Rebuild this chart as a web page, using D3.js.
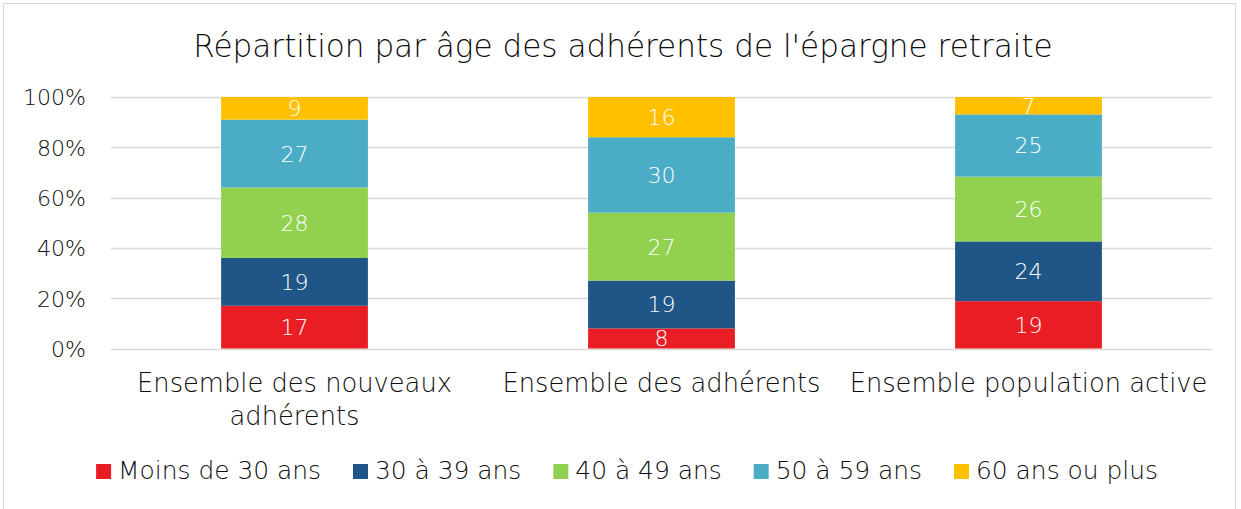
<!DOCTYPE html>
<html>
<head>
<meta charset="utf-8">
<script src="https://cdn.jsdelivr.net/npm/d3@7"></script>
<style>
  body { margin: 0; background: #fff; }
  svg { font-family: "DejaVu Sans", sans-serif; font-weight: 200; }
</style>
</head>
<body>
<svg id="chart" width="1241" height="509"></svg>
<script>
const categories = [["Ensemble des nouveaux", "adhérents"], ["Ensemble des adhérents"], ["Ensemble population active"]];
const seriesNames = ["Moins de 30 ans", "30 à 39 ans", "40 à 49 ans", "50 à 59 ans", "60 ans ou plus"];
const moins30 = [17, 8, 19];
const de30a39 = [19, 19, 24];
const de40a49 = [28, 27, 26];
const de50a59 = [27, 30, 25];
const plus60 = [9, 16, 7];
const yTicks = [0, 0.2, 0.4, 0.6, 0.8, 1];
const colors = ["#E91E25", "#1F5587", "#92D050", "#4BACC6", "#FFC000"];

const svg = d3.select("#chart");
const margin = { top: 97, right: 29, bottom: 160, left: 111 };
const W = 1241, H = 509;
const ink = "#0d0d0d";

// size a font so a sample string takes a given width (the original uses Century Gothic)
function fitSize(sample, target, base) {
  const t = svg.append("text").attr("font-size", base).text(sample);
  const w = t.node().getComputedTextLength();
  t.remove();
  return base * target / w;
}
const titleSize = fitSize("Répartition par âge des adhérents de l'épargne retraite", 860, 30);
const catSize = fitSize("Ensemble des nouveaux", 315, 24);
const legSize = fitSize("Moins de 30 ans", 203, 24);
const tickSize = fitSize("100%", 63, 24);
const valSize = tickSize;

// frame
svg.append("rect").attr("x", 3.5).attr("y", 3.5).attr("width", 1232).attr("height", 510)
  .attr("fill", "#fff").attr("stroke", "#D9D9D9").attr("stroke-width", 1);

const keys = seriesNames;
const cols = [moins30, de30a39, de40a49, de50a59, plus60];
const rows = categories.map((c, i) => {
  const r = { cat: c.join(" ") };
  keys.forEach((k, j) => r[k] = cols[j][i]);
  return r;
});
const stacked = d3.stack().keys(keys).offset(d3.stackOffsetExpand)(rows);

const x = d3.scaleBand().domain(rows.map(r => r.cat)).range([margin.left, W - margin.right]);
const y = d3.scaleLinear().domain([0, 1]).range([H - margin.bottom - 0.5, margin.top]);
const barW = x.bandwidth() * 0.4;

// grid
svg.append("g").selectAll("line").data(yTicks).join("line")
  .attr("x1", margin.left).attr("x2", W - margin.right)
  .attr("y1", d => Math.round(y(d)) + 0.5).attr("y2", d => Math.round(y(d)) + 0.5)
  .attr("stroke", "#D9D9D9").attr("stroke-width", 1.5);

// y axis
const yAxis = d3.axisLeft(y).tickValues(yTicks).tickFormat(d3.format(".0%")).tickSize(0).tickPadding(0);
const ya = svg.append("g").attr("transform", `translate(${margin.left - 25},0)`).call(yAxis)
  .attr("font-family", null).attr("font-size", null);
ya.select(".domain").remove();
ya.selectAll("text").attr("font-size", tickSize).attr("fill", ink).attr("dy", "0.36em");

// bars
const g = svg.append("g");
stacked.forEach((s, j) => {
  g.selectAll(null).data(s).join("rect")
    .attr("x", d => x(d.data.cat) + (x.bandwidth() - barW) / 2)
    .attr("width", barW)
    .attr("y", d => y(d[1]))
    .attr("height", d => y(d[0]) - y(d[1]))
    .attr("fill", colors[j]);
  g.selectAll(null).data(s).join("text")
    .attr("x", d => x(d.data.cat) + x.bandwidth() / 2)
    .attr("y", d => (y(d[0]) + y(d[1])) / 2)
    .attr("dy", "0.36em")
    .attr("text-anchor", "middle")
    .attr("fill", "#fff").attr("font-size", valSize)
    .text(d => d.data[s.key]);
});

// category labels
const cl = svg.append("g");
categories.forEach((c, i) => {
  const t = cl.append("text").attr("text-anchor", "middle").attr("font-size", catSize).attr("fill", ink);
  c.forEach((line, k) => {
    t.append("tspan").attr("x", x(rows[i].cat) + x.bandwidth() / 2).attr("y", 392 + k * 33).text(line);
  });
});

// title
svg.append("text").attr("x", 623).attr("y", 57).attr("text-anchor", "middle")
  .attr("font-size", titleSize).attr("fill", ink)
  .text("Répartition par âge des adhérents de l'épargne retraite");

// legend
const leg = svg.append("g");
const items = keys.map((k, j) => {
  const it = leg.append("g");
  it.append("rect").attr("width", 15).attr("height", 15).attr("y", -15).attr("fill", colors[j]);
  const t = it.append("text").attr("x", 22).attr("font-size", legSize).attr("fill", ink).text(k);
  return { it, w: 22 + t.node().getComputedTextLength() };
});
const gap = 32;
const total = d3.sum(items, d => d.w) + gap * (items.length - 1);
let lx = 627 - total / 2;
items.forEach(d => { d.it.attr("transform", `translate(${lx},479)`); lx += d.w + gap; });
</script>
</body>
</html>
